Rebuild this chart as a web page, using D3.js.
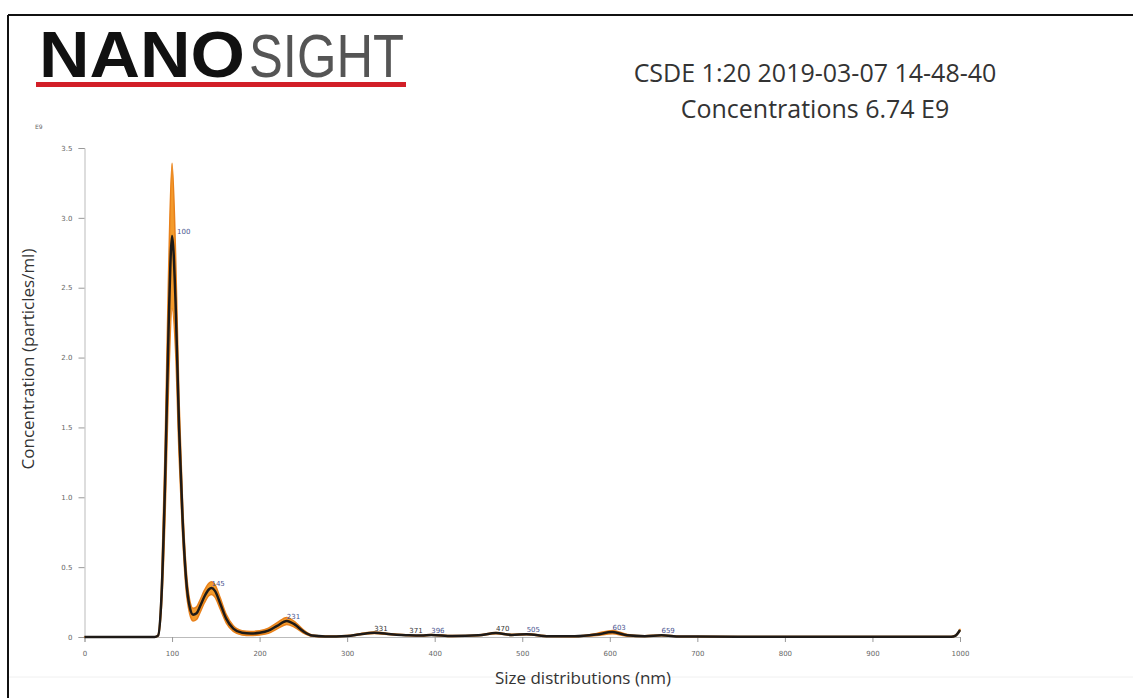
<!DOCTYPE html>
<html>
<head>
<meta charset="utf-8">
<script src="https://cdn.jsdelivr.net/npm/d3@7"></script>
<style>
  body { margin: 0; background: #fff; }
  svg { display: block; }
</style>
</head>
<body>
<svg id="chart"></svg>
<script>
// size (nm) and concentration (E9 particles/ml)
const sizes = [0, 50, 80, 84, 88, 92, 96, 100, 104, 108, 112, 116, 120, 124, 128, 132, 137, 142, 145, 149, 155, 162, 170, 180, 190, 200, 210, 220, 231, 240, 250, 260, 275, 300, 315, 331, 350, 371, 385, 396, 420, 450, 470, 488, 505, 530, 560, 585, 603, 620, 640, 659, 680, 700, 800, 900, 990, 995, 1000]
const meanConc = [0, 0, 0, 0.01, 0.3, 1.1, 2.2, 2.87, 2.4, 1.5, 0.85, 0.42, 0.22, 0.16, 0.17, 0.22, 0.29, 0.34, 0.35, 0.33, 0.24, 0.13, 0.06, 0.03, 0.025, 0.03, 0.045, 0.08, 0.115, 0.09, 0.04, 0.01, 0.004, 0.008, 0.02, 0.03, 0.02, 0.012, 0.01, 0.015, 0.007, 0.012, 0.028, 0.015, 0.02, 0.006, 0.005, 0.018, 0.035, 0.012, 0.006, 0.012, 0.004, 0.003, 0.002, 0.002, 0.002, 0.01, 0.05]
const errConc = [0, 0, 0, 0.005, 0.08, 0.25, 0.4, 0.52, 0.35, 0.2, 0.12, 0.08, 0.05, 0.045, 0.045, 0.045, 0.045, 0.045, 0.045, 0.045, 0.04, 0.03, 0.02, 0.015, 0.015, 0.015, 0.018, 0.022, 0.025, 0.02, 0.012, 0.005, 0.003, 0.003, 0.004, 0.005, 0.004, 0.003, 0.003, 0.003, 0.003, 0.003, 0.005, 0.004, 0.004, 0.003, 0.003, 0.008, 0.012, 0.006, 0.003, 0.003, 0.002, 0.002, 0.002, 0.002, 0.002, 0.003, 0.005]

// labelled peaks
const peakSizes = [100, 145, 231, 331, 371, 396, 470, 505, 603, 659]
const peakValues = [2.87, 0.35, 0.115, 0.03, 0.012, 0.015, 0.028, 0.02, 0.035, 0.012]
const peakColours = ["#4a5590", "#4a5590", "#4a5590", "#333", "#333", "#4a5590", "#333", "#4a5590", "#4a5590", "#4a5590"]

const xTicks = [0, 100, 200, 300, 400, 500, 600, 700, 800, 900, 1000]
const yTicks = [0, 0.5, 1.0, 1.5, 2.0, 2.5, 3.0, 3.5]

const titleLine1 = "CSDE 1:20 2019-03-07 14-48-40"
const titleLine2 = "Concentrations 6.74 E9"

const W = 1133, H = 698

const svg = d3.select("#chart").attr("width", W).attr("height", H)

// frame
svg.append("line").attr("x1", 8).attr("y1", 15).attr("x2", W).attr("y2", 15)
  .attr("stroke", "#111").attr("stroke-width", 2)
svg.append("line").attr("x1", 8).attr("y1", 15).attr("x2", 8).attr("y2", H)
  .attr("stroke", "#111").attr("stroke-width", 2)
svg.append("line").attr("x1", 9).attr("y1", 677).attr("x2", W).attr("y2", 677)
  .attr("stroke", "#f0f0f0").attr("stroke-width", 1)

// logo
svg.append("text").attr("x", 39).attr("y", 77)
  .attr("font-family", "Liberation Sans, Arial, sans-serif")
  .attr("font-weight", "bold").attr("font-size", 64)
  .attr("textLength", 206).attr("lengthAdjust", "spacingAndGlyphs")
  .attr("fill", "#111").text("NANO")
svg.append("text").attr("x", 249).attr("y", 77)
  .attr("font-family", "Liberation Sans, Arial, sans-serif")
  .attr("font-size", 62)
  .attr("textLength", 155).attr("lengthAdjust", "spacingAndGlyphs")
  .attr("fill", "#555").text("SIGHT")
svg.append("rect").attr("x", 36).attr("y", 82).attr("width", 370).attr("height", 5)
  .attr("fill", "#d21f28")

// title
svg.append("text").attr("x", 815).attr("y", 82).attr("text-anchor", "middle")
  .attr("font-family", "Open Sans, sans-serif").attr("font-size", 25)
  .attr("fill", "#333").text(titleLine1)
svg.append("text").attr("x", 815).attr("y", 118).attr("text-anchor", "middle")
  .attr("font-family", "Open Sans, sans-serif").attr("font-size", 25)
  .attr("fill", "#333").text(titleLine2)

// scales
const x = d3.scaleLinear().domain([0, 1000]).range([84.5, 960])
const y = d3.scaleLinear().domain([0, 3.5]).range([637, 148])

const data = sizes.map((s, i) => ({ s: s, m: meanConc[i], e: errConc[i] }))

// axes
const gX = svg.append("g").attr("transform", "translate(0,637)")
  .call(d3.axisBottom(x).tickValues(xTicks).tickSize(5).tickPadding(9).tickFormat(d3.format("d")))
const gY = svg.append("g").attr("transform", "translate(84.5,0)")
  .call(d3.axisLeft(y).tickValues(yTicks).tickSize(6).tickPadding(6)
    .tickFormat(d => d === 0 ? "0" : d3.format(".1f")(d)))

;[gX, gY].forEach(g => {
  g.select(".domain").attr("stroke", "#bbb")
  g.selectAll(".tick line").attr("stroke", "#999")
  g.selectAll(".tick text").attr("fill", "#666").attr("font-size", 7)
    .attr("font-family", "DejaVu Sans, sans-serif")
})

svg.append("text").attr("x", 35).attr("y", 129)
  .attr("font-family", "DejaVu Sans, sans-serif").attr("font-size", 6)
  .attr("fill", "#666").text("E9")

// axis titles
svg.append("text").attr("transform", "translate(34,359) rotate(-90)")
  .attr("text-anchor", "middle").attr("font-family", "Open Sans, sans-serif")
  .attr("font-size", 17).attr("fill", "#333").text("Concentration (particles/ml)")
svg.append("text").attr("x", 583).attr("y", 684).attr("text-anchor", "middle")
  .attr("font-family", "Open Sans, sans-serif")
  .attr("font-size", 17).attr("fill", "#333").text("Size distributions (nm)")

// error band
const band = d3.area()
  .x(d => x(d.s))
  .y0(d => y(Math.max(0, d.m - d.e)))
  .y1(d => y(d.m + d.e))
  .curve(d3.curveMonotoneX)
svg.append("path").datum(data).attr("d", band)
  .attr("fill", "#f39a2b").attr("stroke", "#e8801a").attr("stroke-width", 1.5)
  .attr("stroke-linejoin", "round")

// mean line
const line = d3.line().x(d => x(d.s)).y(d => y(d.m)).curve(d3.curveMonotoneX)
svg.append("path").datum(data).attr("d", line)
  .attr("fill", "none").attr("stroke", "#1e1a17").attr("stroke-width", 2.5)
  .attr("stroke-linejoin", "round")

// peak labels
svg.selectAll(".peak").data(peakSizes).enter().append("text")
  .attr("class", "peak")
  .attr("x", (d, i) => x(d) + (i === 0 ? 5 : 0))
  .attr("y", (d, i) => y(peakValues[i]) - 2)
  .attr("font-family", "DejaVu Sans, sans-serif").attr("font-size", 7)
  .attr("fill", (d, i) => peakColours[i]).text(d => d)
</script>
</body>
</html>
